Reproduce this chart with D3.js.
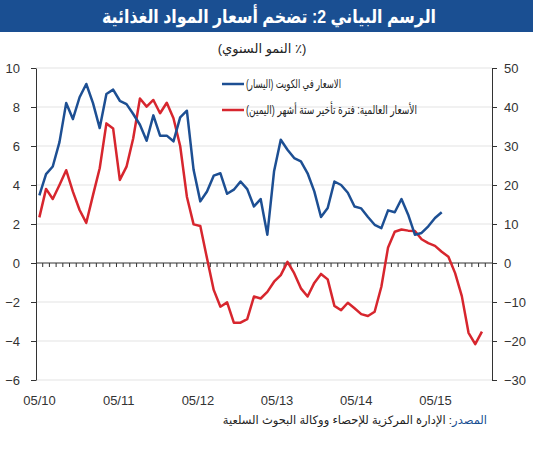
<!DOCTYPE html>
<html>
<head>
<meta charset="utf-8">
<script src="https://cdn.jsdelivr.net/npm/d3@7"></script>
<style>
  body { margin: 0; background: #fff; }
  svg { display: block; }
</style>
</head>
<body>
<div id="chart"></div>
<script>
// monthly categories, May 2010 .. Nov 2015
const months = d3.timeMonth.range(new Date(2010, 4, 1), new Date(2015, 11, 2));

// Kuwait food prices, y/y % (left axis)
const kuwait = [3.47, 4.56, 4.95, 6.2, 8.2, 7.38, 8.5, 9.18, 8.2, 6.92,
  8.67, 8.89, 8.32, 8.15, 7.64, 7.09, 6.27, 7.57, 6.53, 6.53,
  6.24, 7.47, 7.81, 4.78, 3.16, 3.67, 4.48, 4.6, 3.55, 3.76,
  4.18, 3.79, 2.9, 3.28, 1.45, 4.7, 6.32, 5.81, 5.38, 5.21,
  4.6, 3.67, 2.36, 2.82, 4.18, 4.0, 3.6, 2.9, 2.8, 2.36,
  1.96, 1.79, 2.7, 2.6, 3.28, 2.48, 1.45, 1.54, 1.88, 2.31, 2.6];

// world food prices, 6 month lag, y/y % (right axis)
const world = [11.7, 19.0, 16.4, 20, 23.8, 18.3, 13.6, 10.3, 17.4, 24.3,
  35.8, 34.5, 21.3, 24.7, 32, 42.2, 40.1, 41.8, 38.4, 41.1,
  37.1, 30, 17, 9.9, 9.5, 1.2, -6.9, -11.2, -10.1, -15.3,
  -15.3, -14.4, -8.6, -9.1, -7.4, -4.8, -3.1, 0.3, -2.6, -6.5,
  -8.6, -5.1, -2.8, -4.2, -11, -12.1, -10.2, -11.6, -13.1, -13.6,
  -12.5, -6.1, 4.0, 8.0, 8.6, 8.3, 8.2, 6.1, 5.1, 4.4,
  2.9, 1.6, -2.6, -8.5, -17.9, -20.8, -17.6];

const xLabels = ["05/10", "05/11", "05/12", "05/13", "05/14", "05/15"];
const leftTicks = [-6, -4, -2, 0, 2, 4, 6, 8, 10];
const rightTicks = [-30, -20, -10, 0, 10, 20, 30, 40, 50];

const seriesNames = ["الاسعار في الكويت (اليسار)", "الأسعار العالمية: فترة تأخير ستة أشهر (اليمين)"];
const title = "الرسم البياني 2: تضخم أسعار المواد الغذائية";
const subtitle = "(٪ النمو السنوي)";
const sourceLabel = "المصدر";
const sourceText = ": الإدارة المركزية للإحصاء  ووكالة البحوث السلعية";

const W = 533, H = 450;
const blue = "#1d4f93", red = "#d7262e", navy = "#1a4f92";
const numFont = "Arial, 'Liberation Sans', sans-serif";
const arFont = "Arial, 'DejaVu Sans', sans-serif";

const svg = d3.select("#chart").append("svg")
  .attr("width", W)
  .attr("height", H);

// title bar
svg.append("rect")
  .attr("x", 0).attr("y", 0)
  .attr("width", W).attr("height", 32)
  .attr("fill", navy);

svg.append("text")
  .attr("x", 269).attr("y", 23)
  .attr("text-anchor", "middle")
  .attr("direction", "rtl")
  .attr("fill", "#fff")
  .attr("font-family", arFont)
  .attr("font-weight", "bold")
  .attr("font-size", 19)
  .attr("textLength", 334)
  .attr("lengthAdjust", "spacingAndGlyphs")
  .text(title);

svg.append("text")
  .attr("x", 262).attr("y", 53)
  .attr("text-anchor", "middle")
  .attr("direction", "rtl")
  .attr("fill", "#222")
  .attr("font-family", arFont)
  .attr("font-size", 13)
  .text(subtitle);

// scales
const x = d3.scaleLinear()
  .domain([-0.5, months.length - 0.5])
  .range([36, 492]);

const yL = d3.scaleLinear().domain([-6, 10]).range([380, 68]);
const yR = d3.scaleLinear().domain([-30, 50]).range([380, 68]);

// gridlines
svg.append("g")
  .selectAll("line")
  .data(leftTicks.filter(d => d !== 0))
  .enter()
  .append("line")
  .attr("x1", x.range()[0]).attr("x2", x.range()[1])
  .attr("y1", d => yL(d)).attr("y2", d => yL(d))
  .attr("stroke", "#e3e3e3")
  .attr("stroke-width", 1);

// left axis
const leftAxis = svg.append("g")
  .attr("transform", "translate(36,0)")
  .call(d3.axisLeft(yL).tickValues(leftTicks).tickSize(5).tickPadding(11).tickSizeOuter(0));

// right axis
const rightAxis = svg.append("g")
  .attr("transform", "translate(492,0)")
  .call(d3.axisRight(yR).tickValues(rightTicks).tickSize(5).tickPadding(7).tickSizeOuter(0));

[leftAxis, rightAxis].forEach(a => {
  a.select(".domain").attr("stroke", "#333");
  a.selectAll(".tick line").attr("stroke", "#333");
  a.selectAll(".tick text")
    .attr("fill", "#333")
    .attr("font-family", numFont)
    .attr("font-size", 13);
});

// zero line with monthly ticks
svg.append("line")
  .attr("x1", x.range()[0]).attr("x2", x.range()[1])
  .attr("y1", yL(0)).attr("y2", yL(0))
  .attr("stroke", "#333")
  .attr("stroke-width", 1);

svg.append("g")
  .selectAll("line")
  .data(months.slice(1))
  .enter()
  .append("line")
  .attr("x1", (d, i) => x(i + 0.5)).attr("x2", (d, i) => x(i + 0.5))
  .attr("y1", yL(0)).attr("y2", yL(0) + 4)
  .attr("stroke", "#333")
  .attr("stroke-width", 1);

// x labels (placed evenly under the chart as in the original)
const labelScale = d3.scalePoint().domain(xLabels).range([39.5, 435.5]);
svg.append("g")
  .selectAll("text")
  .data(xLabels)
  .enter()
  .append("text")
  .attr("x", d => labelScale(d))
  .attr("y", 405)
  .attr("text-anchor", "middle")
  .attr("fill", "#333")
  .attr("font-family", numFont)
  .attr("font-size", 13)
  .text(d => d);

// lines
const lineL = d3.line().x((d, i) => x(i)).y(d => yL(d));
const lineR = d3.line().x((d, i) => x(i)).y(d => yR(d));

svg.append("path")
  .datum(world)
  .attr("d", lineR)
  .attr("fill", "none")
  .attr("stroke", red)
  .attr("stroke-width", 2.5)
  .attr("stroke-linejoin", "round");

svg.append("path")
  .datum(kuwait)
  .attr("d", lineL)
  .attr("fill", "none")
  .attr("stroke", blue)
  .attr("stroke-width", 2.5)
  .attr("stroke-linejoin", "round");

// legend
const legendWidths = [95, 171];
const legend = svg.append("g").attr("class", "legend");
const legendItems = legend.selectAll(".legend-item")
  .data(seriesNames)
  .enter()
  .append("g")
  .attr("class", "legend-item")
  .attr("transform", (d, i) => "translate(222," + (84 + i * 26) + ")");

legendItems.append("line")
  .attr("x1", 0).attr("x2", 22)
  .attr("stroke", (d, i) => i === 0 ? blue : red)
  .attr("stroke-width", 2.5);

legendItems.append("text")
  .attr("x", 24)
  .attr("y", 4)
  .attr("direction", "rtl")
  .attr("text-anchor", "end")
  .attr("fill", "#222")
  .attr("font-family", arFont)
  .attr("font-size", 12)
  .attr("textLength", (d, i) => legendWidths[i])
  .attr("lengthAdjust", "spacingAndGlyphs")
  .text(d => d);

// source line, blue label first (rightmost)
const src = svg.append("text")
  .attr("x", 487).attr("y", 424)
  .attr("direction", "rtl")
  .attr("text-anchor", "start")
  .attr("font-family", arFont)
  .attr("font-size", 11.5);
src.append("tspan").attr("fill", navy).text(sourceLabel);
src.append("tspan").attr("fill", "#222").text(sourceText);
</script>
</body>
</html>
